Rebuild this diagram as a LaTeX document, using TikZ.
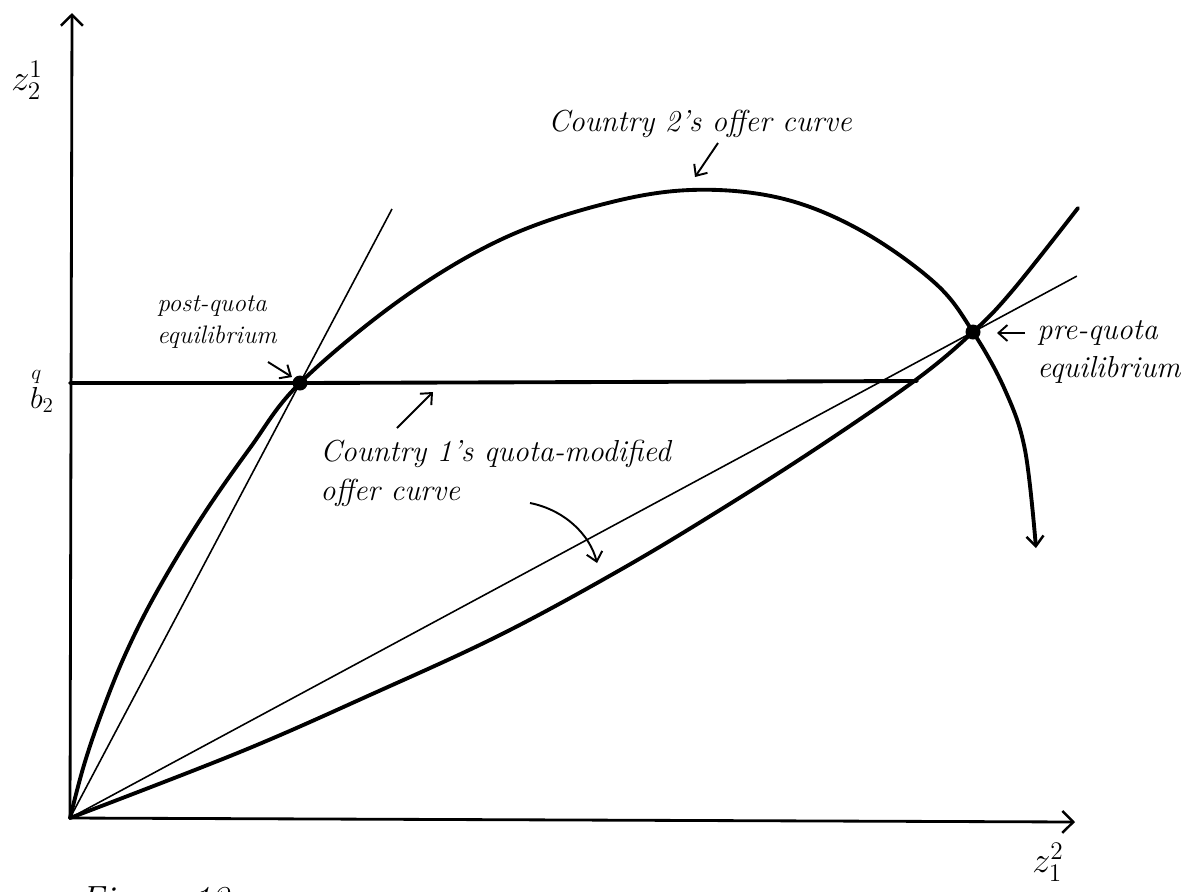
\documentclass[tikz,border=0pt]{standalone}
\usepackage{amsmath}
\usetikzlibrary{arrows.meta,calc}

\begin{document}
\begin{tikzpicture}[x=0.2mm, y=-0.2mm,
    offer/.style={line width=2.2pt, line join=round, line cap=round},
    ray/.style={line width=0.9pt},
    axis/.style={line width=1.6pt, -{Straight Barb[length=2.2mm, width=4.4mm, line width=1.4pt]}},
    note/.style={font=\LARGE\itshape, align=left, inner sep=0pt},
    pointer/.style={line width=1.1pt, -{Straight Barb[length=1.8mm, width=3.2mm, line width=1.1pt]}},
    eqpt/.style={circle, fill=black, inner sep=0pt, minimum size=3mm}
]
    \useasboundingbox (0,0) rectangle (1192,891);
    \clip (0,0) rectangle (1192,891);

    % Axes
    \coordinate (O) at (70,818);
    \coordinate (ytip) at (72,13);
    \coordinate (xtip) at (1075,822);
    \draw[axis] (O) -- (ytip);
    \draw[axis] (O) -- (xtip);
    \node[font=\huge] (zy) at (27,80) {$z^1_2$};
    \node[font=\huge] (zx) at (1048,862) {$z^2_1$};

    % Equilibrium points
    \node[eqpt] (postq) at (300,383) {};
    \node[eqpt] (preq) at (973,332) {};

    % Country 2's offer curve
    \draw[offer, -{Straight Barb[length=2mm, width=3.4mm, line width=1.4pt]}]
        plot[smooth, tension=0.6] coordinates {(70,818) (84,765) (102,712) (125,655)
        (155,595) (200,520) (250,448) (300,383) (400,300) (500,240) (600,205) (690,190)
        (780,198) (860,230) (935,283) (973,332) (1005,390) (1025,450) (1036,548)};

    % Country 1's offer curve
    \draw[offer] plot[smooth, tension=0.6] coordinates {(70,818) (240,752) (370,695)
        (500,635) (620,570) (720,510) (820,446) (917,379) (973,332) (1013,290) (1078,208)};

    % Quota line
    \coordinate (qend) at (917,381);
    \draw[offer] (O |- postq) -- (postq.center) -- (qend);
    \node[font=\LARGE] (qlab) at (42,390) {$\overset{q}{b}_2$};

    % Rays through the equilibria
    \draw[ray] (O) -- ($(O)!1.4!(postq)$);
    \draw[ray] (O) -- ($(O)!1.115!(preq)$);

    % Labels
    \node[note] (c2lab) at (700,124) {Country 2's offer curve};
    \coordinate (c2a) at (718,143);
    \coordinate (c2b) at (695,177);
    \draw[pointer] (c2a) -- (c2b);

    \node[note, font=\Large\itshape, anchor=west] (postlab) at (157,322) {post-quota\\equilibrium};
    \coordinate (pqa) at (268,362);
    \coordinate (pqb) at (292,377);
    \draw[pointer] (pqa) -- (pqb);

    \node[note, anchor=west] (prelab) at (1037,352) {pre-quota\\equilibrium};
    \coordinate (pra) at (1025,333);
    \coordinate (prb) at (997,333);
    \draw[pointer] (pra) -- (prb);

    \node[note, anchor=north west] (c1lab) at (320,440) {Country 1's quota-modified\\offer curve};
    \coordinate (qla) at (397,428);
    \coordinate (qlb) at (433,392);
    \draw[pointer] (qla) -- (qlb);
    \coordinate (c1a) at (530,503);
    \coordinate (c1b) at (597,563);
    \draw[pointer] (c1a) .. controls (565,510) and (590,535) .. (c1b);

    % Caption, cut at the lower edge
    \node[font=\huge\itshape, anchor=north west, inner sep=0pt] (fig) at (80,886) {Figure 13};
\end{tikzpicture}
\end{document}
